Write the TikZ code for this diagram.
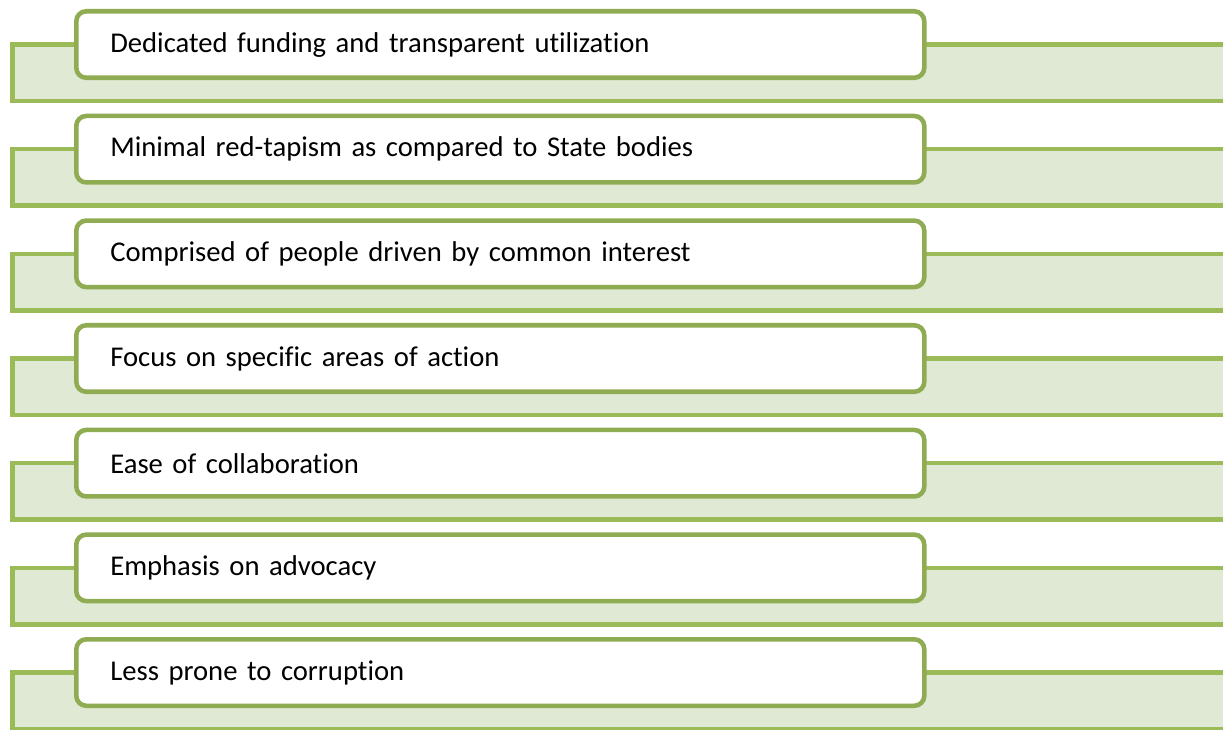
\documentclass[tikz,border=0pt]{standalone}
\usepackage{fontspec}
\setmainfont{Carlito}[Ligatures={NoCommon}]
\usetikzlibrary{positioning}
\definecolor{gruenlinie}{RGB}{155,187,89}
\definecolor{gruenrahmen}{RGB}{143,172,82}
\definecolor{gruenflaeche}{RGB}{224,233,212}

\begin{document}
\begin{tikzpicture}

	% Stil für alle Knoten
	\tikzset{every node/.style={font=\fontsize{8.15pt}{9.8pt}\selectfont},
		band/.style={draw=gruenlinie, fill=gruenflaeche, line width=1.3pt},
		punkt/.style={draw=gruenrahmen, fill=white, line width=1.3pt, rounded corners=0.1cm,
			minimum height=0.665cm, text width=7.8cm, inner xsep=0.34cm, align=left, anchor=west}}

	\useasboundingbox (0,0) rectangle (12.23,-7.29);

	% Zeilen: Band (hellgrün) und Kasten (weiß)
	\foreach [count=\i] \t in {Dedicated funding and transparent utilization,
		Minimal red-tapism as compared to State bodies,
		Comprised of people driven by common interest,
		Focus on specific areas of action,
		Ease of collaboration,
		Emphasis on advocacy,
		Less prone to corruption} {
		\pgfmathsetmacro\y{-0.445-1.0467*(\i-1)}
		\draw[band] (0.125,\y) rectangle (12.4,\y-0.565);
		\node[punkt] (r\i) at (0.74,\y) {\t};
	}

\end{tikzpicture}
\end{document}
